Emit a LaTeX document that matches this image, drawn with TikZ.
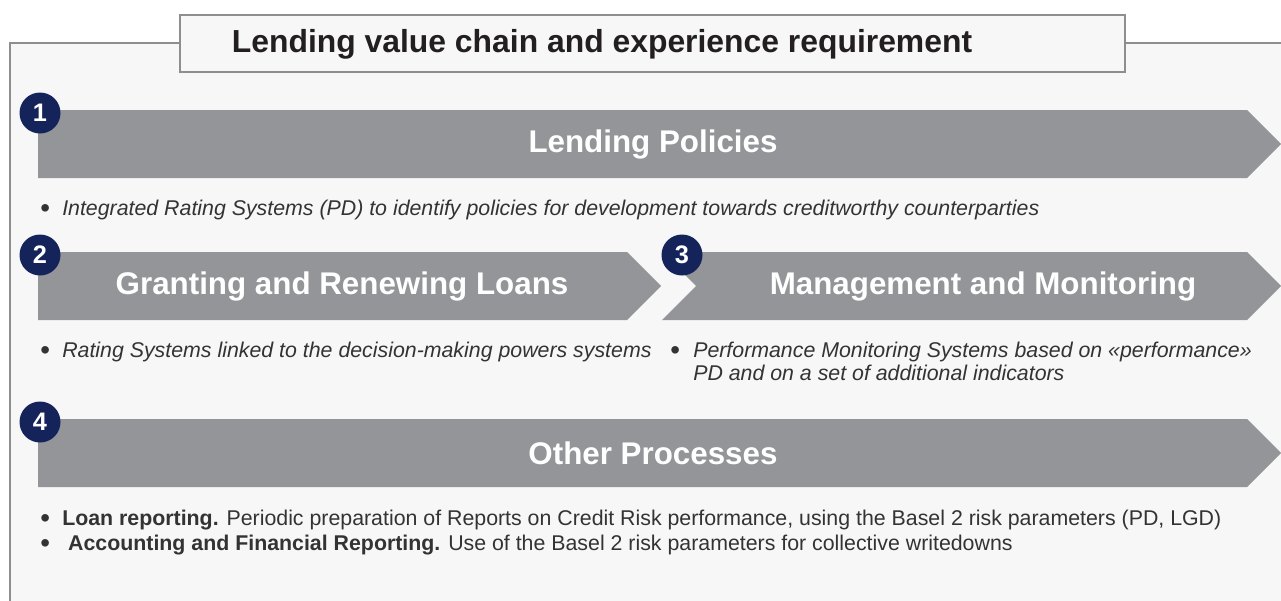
\documentclass[tikz,border=0pt]{standalone}
\usepackage{fontspec}
\usepackage{graphicx}
\setmainfont{Liberation Sans}
\usetikzlibrary{positioning}

\definecolor{chainGray}{HTML}{939598}
\definecolor{chainNavy}{HTML}{14245A}
\definecolor{panelBg}{HTML}{F7F7F7}
\definecolor{frameGray}{HTML}{8E8E8E}
\definecolor{textDark}{HTML}{231F20}
\definecolor{bodyText}{HTML}{333333}

\newlength\pxu
\setlength\pxu{0.75pt}
\newcommand{\bul}[1][22]{\makebox[#1\pxu][l]{\raisebox{-0.1em}{\scalebox{1.3}{\textbullet}}}}

\begin{document}
\begin{tikzpicture}[x=0.75pt, y=-0.75pt]
    % Define styles
    \tikzset{
        frameline/.style={draw=frameGray, line width=1.1pt},
        titlebox/.style={draw=frameGray, fill=panelBg, line width=0.8pt},
        titletext/.style={text=textDark, font=\fontsize{23.9}{28}\selectfont\bfseries},
        chainarrow/.style={fill=chainGray},
        arrowlabel/.style={text=white, font=\fontsize{23.5}{28}\selectfont\bfseries},
        stepnum/.style={circle, fill=chainNavy, text=white, minimum size=30.75pt, inner sep=0pt, font=\fontsize{19}{20}\selectfont\bfseries},
        bullettext/.style={anchor=base west, inner sep=0pt, text=bodyText, align=left, font=\fontsize{16}{17.25}\selectfont}
    }

    \useasboundingbox (0,0) rectangle (1281,600);

    % Panel and frame
    \fill[white] (0,0) rectangle (1281,600);
    \fill[panelBg] (10,43) rectangle (1290,610);
    \draw[frameline] (10,610) -- (10,43) -- (1290,43);

    % Title
    \draw[titlebox] (180,15) rectangle (1125,72);
    \node[titletext] (title) at (602,44) {Lending value chain and experience requirement};

    % Step 1
    \fill[chainarrow] (38,110) -- (1247,110) -- (1281,144) -- (1247,178) -- (38,178) -- cycle;
    \node[arrowlabel] (lending) at (653,144) {Lending Policies};
    \node[stepnum] (num1) at (40,113) {1};
    \node[bullettext] (note1) at (40,215) {\bul\itshape Integrated Rating Systems (PD) to identify policies for development towards creditworthy counterparties};

    % Steps 2 and 3
    \fill[chainarrow] (38,252) -- (627,252) -- (661,286) -- (627,320) -- (38,320) -- cycle;
    \fill[chainarrow] (662,252) -- (1247,252) -- (1281,286) -- (1247,320) -- (662,320) -- (696,286) -- cycle;
    \node[arrowlabel] (granting) at (342,286) {Granting and Renewing Loans};
    \node[arrowlabel] (monitoring) at (983,286) {Management and Monitoring};
    \node[stepnum] (num2) at (40,255) {2};
    \node[stepnum] (num3) at (682,255) {3};
    \node[bullettext] (note2) at (40,357) {\bul\itshape Rating Systems linked to the decision-making powers systems};
    \node[bullettext] (note3) at (670,380) {\bul[23]\itshape Performance Monitoring Systems based on «performance»\\
        \hspace*{23\pxu}\itshape PD and on a set of additional indicators};

    % Step 4
    \fill[chainarrow] (38,419) -- (1247,419) -- (1281,453) -- (1247,487) -- (38,487) -- cycle;
    \node[arrowlabel] (other) at (653,453) {Other Processes};
    \node[stepnum] (num4) at (40,422) {4};
    \node[bullettext] (note4a) at (40,525) {\bul\textbf{Loan reporting.} Periodic preparation of Reports on Credit Risk performance, using the Basel 2 risk parameters (PD, LGD)};
    \node[bullettext] (note4b) at (40,550) {\bul\ \textbf{Accounting and Financial Reporting.} Use of the Basel 2 risk parameters for collective writedowns};

\end{tikzpicture}
\end{document}
